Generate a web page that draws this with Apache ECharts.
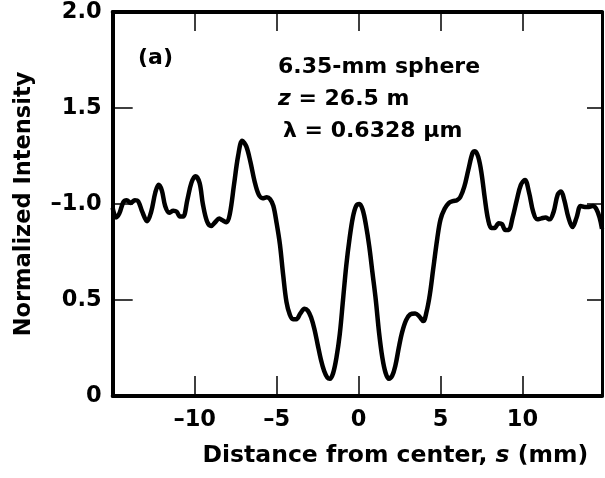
<!DOCTYPE html>
<html><head><meta charset="utf-8">
<script src="https://cdn.jsdelivr.net/npm/echarts@6/dist/echarts.min.js"></script>
<style>html,body{margin:0;padding:0;background:#fff}#c{width:605px;height:478px}</style>
</head><body><div id="c"></div>
<script>
// Distance from center s (mm)
const sValues = [
  -15.0,-14.8,-14.6,-14.35,-14.15,-13.9,-13.65,-13.45,-13.2,-12.9,-12.65,-12.4,-12.2,-12.0,-11.8,-11.55,-11.3,-11.1,-10.9,-10.7,
  -10.45,-10.2,-9.95,-9.7,-9.5,-9.25,-9.0,-8.75,-8.5,-8.3,-8.05,-7.85,-7.6,-7.35,-7.1,-6.85,-6.6,-6.35,-6.1,-5.85,
  -5.6,-5.4,-5.2,-5.0,-4.8,-4.6,-4.4,-4.2,-4.0,-3.8,-3.55,-3.3,-3.1,-2.9,-2.7,-2.5,-2.3,-2.1,-1.9,-1.75,
  -1.55,-1.35,-1.15,-0.95,-0.75,-0.55,-0.35,-0.15,0.05,0.25,0.45,0.65,0.85,1.05,1.25,1.45,1.65,1.85,2.05,2.25,
  2.45,2.65,2.9,3.15,3.45,3.7,3.95,4.15,4.35,4.55,4.8,5.0,5.25,5.5,5.75,6.0,6.2,6.45,6.7,6.95,
  7.1,7.3,7.5,7.7,7.9,8.1,8.3,8.55,8.75,8.95,9.15,9.4,9.65,9.9,10.15,10.4,10.65,10.9,11.15,11.4,
  11.65,11.9,12.15,12.35,12.55,12.8,13.05,13.3,13.55,13.8,14.05,14.3,14.5,14.7,14.85
];
// Normalized intensity
const intensity = [
  0.98,0.93,0.95,1.01,1.02,1.005,1.02,1.015,0.96,0.91,0.96,1.06,1.10,1.07,0.99,0.955,0.965,0.96,0.935,0.935,
  1.02,1.11,1.145,1.11,1.0,0.91,0.885,0.905,0.925,0.915,0.905,0.95,1.1,1.25,1.33,1.30,1.22,1.12,1.05,1.03,
  1.035,1.025,0.99,0.9,0.79,0.63,0.49,0.425,0.40,0.40,0.43,0.455,0.445,0.41,0.35,0.27,0.19,0.13,0.095,0.09,
  0.12,0.2,0.32,0.5,0.68,0.82,0.93,0.99,1.0,0.97,0.89,0.78,0.64,0.5,0.33,0.2,0.12,0.09,0.105,0.16,
  0.25,0.33,0.395,0.425,0.43,0.415,0.39,0.44,0.53,0.66,0.82,0.92,0.975,1.005,1.015,1.02,1.035,1.09,1.18,1.265,
  1.275,1.245,1.16,1.03,0.92,0.875,0.875,0.9,0.895,0.865,0.865,0.93,1.02,1.1,1.125,1.06,0.96,0.92,0.925,0.93,
  0.92,0.96,1.05,1.065,1.02,0.93,0.88,0.93,0.99,0.985,0.985,0.99,0.975,0.93,0.87
];
const xTicks = [-10, -5, 0, 5, 10];
const xTickLabels = ['–10', '–5', '0', '5', '10'];
const yTicks = [0, 0.5, 1, 1.5, 2];
const yTickLabels = ['0', '0.5', '–1.0', '1.5', '2.0'];
const xTitle = 'Distance from center, {i|s} (mm)';
const yTitle = 'Normalized Intensity';
const panelLabel = '(a)';
const noteLine1 = '6.35-mm sphere';
const noteLine2 = '{i|z} = 26.5 m';
const noteLine3 = 'λ = 0.6328 μm';

const FONT = 'DejaVu Sans';
const chart = echarts.init(document.getElementById('c'), null, {renderer: 'canvas'});
const labelFromList = (ticks, labels) => v => {
  const i = ticks.findIndex(t => Math.abs(t - v) < 1e-9);
  return i >= 0 ? labels[i] : '';
};
const baseText = {fontFamily: FONT, fontWeight: 'bold', fontSize: 22.5, color: '#000'};

chart.setOption({
  animation: false,
  backgroundColor: '#fff',
  grid: {left: 112.7, right: 1.7, top: 12, bottom: 82},
  xAxis: [{
    type: 'value', min: -15, max: 14.85, interval: 5, position: 'bottom',
    axisLine: {show: true, onZero: false, lineStyle: {color: '#000', width: 4}},
    axisTick: {show: true, inside: true, length: 20, lineStyle: {color: '#000', width: 1.5}},
    axisLabel: Object.assign({margin: 13, formatter: labelFromList(xTicks, xTickLabels)}, baseText),
    splitLine: {show: false},
    name: xTitle, nameLocation: 'middle', nameGap: 48,
    nameTextStyle: Object.assign({}, baseText, {fontSize: 23.5, padding: [0, 0, 0, 76],
      rich: {i: {fontFamily: FONT, fontWeight: 'bold', fontStyle: 'italic', fontSize: 23.5, color: '#000'}}})
  }, {
    type: 'value', min: -15, max: 14.85, interval: 5, position: 'top',
    axisLine: {show: true, onZero: false, lineStyle: {color: '#000', width: 4}},
    axisTick: {show: true, inside: true, length: 19, lineStyle: {color: '#000', width: 1.5}},
    axisLabel: {show: false}, splitLine: {show: false}
  }],
  yAxis: [{
    type: 'value', min: 0, max: 2, interval: 0.5, position: 'left',
    axisLine: {show: true, onZero: false, lineStyle: {color: '#000', width: 4}},
    axisTick: {show: true, inside: true, length: 20, lineStyle: {color: '#000', width: 1.5}},
    axisLabel: Object.assign({margin: 11, formatter: labelFromList(yTicks, yTickLabels)}, baseText),
    splitLine: {show: false},
    name: yTitle, nameLocation: 'middle', nameGap: 77, nameRotate: 90,
    nameTextStyle: Object.assign({}, baseText, {fontSize: 22.5})
  }, {
    type: 'value', min: 0, max: 2, interval: 0.5, position: 'right',
    axisLine: {show: true, onZero: false, lineStyle: {color: '#000', width: 3}},
    axisTick: {show: true, inside: true, length: 15, lineStyle: {color: '#000', width: 1.5}},
    axisLabel: {show: false}, splitLine: {show: false}
  }],
  series: [{
    type: 'line', xAxisIndex: 0, yAxisIndex: 0,
    data: sValues.map((s, i) => [s, intensity[i]]),
    smooth: 0.35, showSymbol: false, clip: true,
    lineStyle: {color: '#000', width: 4.5}
  }],
  graphic: [
    {type: 'text', left: 138, top: 47, style: {text: panelLabel, font: 'bold 22px "DejaVu Sans"', fill: '#000'}},
    {type: 'text', left: 278, top: 56, style: {text: noteLine1, font: 'bold 22px "DejaVu Sans"', fill: '#000'}},
    {type: 'text', left: 278, top: 88, style: {text: noteLine2, font: 'bold 22px "DejaVu Sans"', fill: '#000',
      rich: {i: {fontFamily: FONT, fontWeight: 'bold', fontStyle: 'italic', fontSize: 22, fill: '#000'}}}},
    {type: 'text', left: 283, top: 120, style: {text: noteLine3, font: 'bold 22px "DejaVu Sans"', fill: '#000'}}
  ]
});
</script>
</body></html>
